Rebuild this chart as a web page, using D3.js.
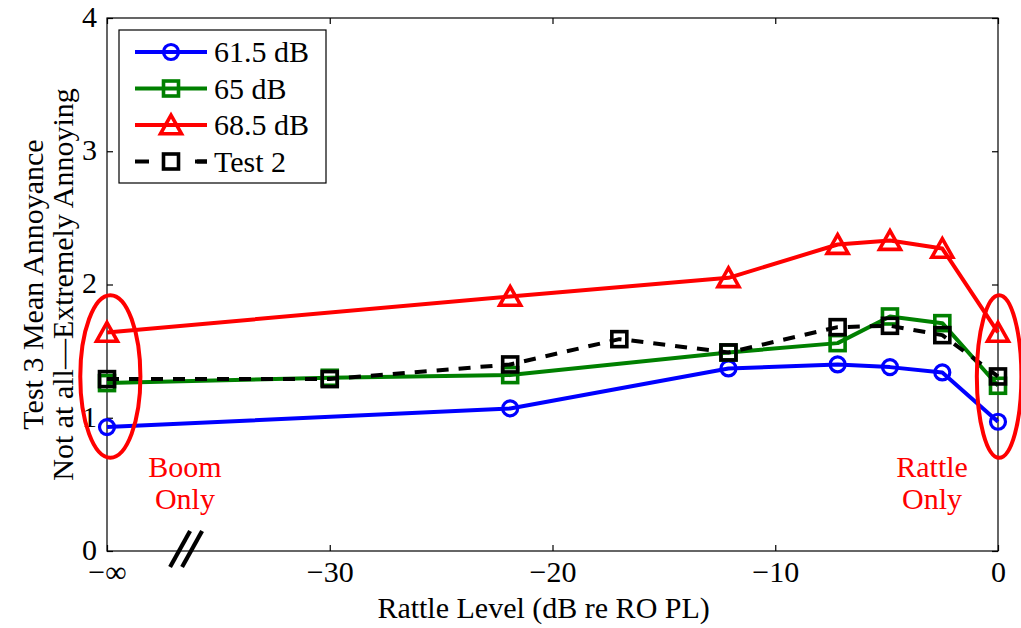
<!DOCTYPE html>
<html>
<head>
<meta charset="utf-8">
<script src="https://cdn.jsdelivr.net/npm/d3@7"></script>
<style>
  html, body { margin: 0; padding: 0; background: #fff; }
  svg { display: block; font-family: "Liberation Serif", "Times New Roman", serif; }
</style>
</head>
<body>
<svg id="chart" width="1021" height="628"></svg>
<script>
// Rattle level in dB re RO PL; -40 stands in for "-∞" (boom only)
const levels61 = [-40, -21.9, -12.1, -7.2, -4.85, -2.5, 0];
const annoy61  = [0.93, 1.07, 1.37, 1.40, 1.38, 1.34, 0.97];

const levels65 = [-40, -30, -21.9, -12.1, -7.2, -4.85, -2.5, 0];
const annoy65  = [1.26, 1.30, 1.32, 1.49, 1.56, 1.76, 1.71, 1.24];

const levels68 = [-40, -21.9, -12.1, -7.2, -4.85, -2.5, 0];
const annoy68  = [1.64, 1.91, 2.05, 2.30, 2.33, 2.27, 1.64];

const levelsT2 = [-40, -30, -21.9, -17, -12.1, -7.2, -4.85, -2.5, 0];
const annoyT2  = [1.29, 1.29, 1.40, 1.59, 1.49, 1.68, 1.69, 1.62, 1.31];

const seriesNames = ["61.5 dB", "65 dB", "68.5 dB", "Test 2"];
const xTickValues = [-40, -30, -20, -10, 0];
const xTickLabels = ["\u2212\u221E", "\u221230", "\u221220", "\u221210", "0"];
const yTickValues = [0, 1, 2, 3, 4];

// Highlight ellipses around the end conditions (data units)
const ellipseCx = [-39.85, 0.05];
const ellipseCy = [1.31, 1.31];
const ellipseRx = [1.35, 1.0];
const ellipseRy = [0.61, 0.61];
const noteLines = [["Boom", "Only"], ["Rattle", "Only"]];
const noteX = [-36.5, -2.96];
const noteY = [0.555, 0.555];

const svg = d3.select("#chart");
const M = { left: 107, right: 998, top: 18, bottom: 551 };

const x = d3.scaleLinear().domain([-40, 0]).range([M.left, M.right]);
const y = d3.scaleLinear().domain([0, 4]).range([M.bottom, M.top]);

const series = [
  { name: seriesNames[0], xs: levels61, ys: annoy61, color: "#0000ff", marker: "circle", dash: null },
  { name: seriesNames[1], xs: levels65, ys: annoy65, color: "#008000", marker: "square", dash: null },
  { name: seriesNames[2], xs: levels68, ys: annoy68, color: "#ff0000", marker: "triangle", dash: null },
  { name: seriesNames[3], xs: levelsT2, ys: annoyT2, color: "#000000", marker: "square", dash: "12,10" }
];

// Axes box
svg.append("rect")
  .attr("x", M.left).attr("y", M.top)
  .attr("width", M.right - M.left).attr("height", M.bottom - M.top)
  .attr("fill", "none").attr("stroke", "#000").attr("stroke-width", 1.2);

const tickLen = 6;
// Bottom axis with inward ticks
const xAxis = d3.axisBottom(x).tickValues(xTickValues)
  .tickSize(-tickLen).tickPadding(10)
  .tickFormat((d, i) => xTickLabels[i]);
const gx = svg.append("g").attr("transform", `translate(0,${M.bottom})`).call(xAxis);
// Top mirrored ticks
const gxt = svg.append("g").attr("transform", `translate(0,${M.top})`)
  .call(d3.axisTop(x).tickValues(xTickValues).tickSize(-tickLen).tickFormat(""));
// Left axis
const gy = svg.append("g").attr("transform", `translate(${M.left},0)`)
  .call(d3.axisLeft(y).tickValues(yTickValues).tickSize(-tickLen).tickPadding(10).tickFormat(d3.format("d")));
// Right mirrored ticks
const gyr = svg.append("g").attr("transform", `translate(${M.right},0)`)
  .call(d3.axisRight(y).tickValues(yTickValues).tickSize(-tickLen).tickFormat(""));

[gx, gxt, gy, gyr].forEach(g => {
  g.select(".domain").remove();
  g.selectAll(".tick line").attr("stroke", "#000").attr("stroke-width", 1.2);
  g.selectAll(".tick text").attr("fill", "#000")
    .style("font-family", "'Liberation Serif', 'Times New Roman', serif")
    .style("font-size", "30px");
});
gx.selectAll(".tick text").attr("dy", "0.71em");
gy.selectAll(".tick text").attr("dy", "0.28em");

// Axis break marks near -∞
const brk = svg.append("g").attr("stroke", "#000").attr("stroke-width", 4.2);
const bx = x(-36.45);
[-6, 6].forEach(off => {
  brk.append("line")
    .attr("x1", bx + off - 10).attr("y1", M.bottom + 16)
    .attr("x2", bx + off + 10).attr("y2", M.bottom - 20);
});

// Axis titles
svg.append("text")
  .attr("x", x(-20.4)).attr("y", 618)
  .attr("text-anchor", "middle")
  .style("font-size", "30px")
  .text("Rattle Level (dB re RO PL)");

const yTitle = svg.append("text")
  .attr("transform", `translate(0,${y(2)}) rotate(-90)`)
  .attr("text-anchor", "middle")
  .style("font-size", "30px");
yTitle.append("tspan").attr("x", 0).attr("y", 43).text("Test 3 Mean Annoyance");
yTitle.append("tspan").attr("x", 0).attr("y", 73).text("Not at all\u2014Extremely Annoying");

// Marker drawing
function drawMarker(g, type, cx, cy, color, fill) {
  if (type === "circle") {
    g.append("circle").attr("cx", cx).attr("cy", cy).attr("r", 7.5)
      .attr("fill", fill).attr("stroke", color).attr("stroke-width", 3.2);
  } else if (type === "square") {
    g.append("rect").attr("x", cx - 7.5).attr("y", cy - 7.5)
      .attr("width", 15).attr("height", 15)
      .attr("fill", fill).attr("stroke", color).attr("stroke-width", 3.6);
  } else if (type === "triangle") {
    const h = 16;
    g.append("path")
      .attr("d", `M${cx},${cy - h * 0.62}L${cx + 10.5},${cy + h * 0.55}L${cx - 10.5},${cy + h * 0.55}Z`)
      .attr("fill", fill).attr("stroke", color).attr("stroke-width", 3.6)
      .attr("stroke-linejoin", "miter");
  }
}

const line = d3.line().x(d => x(d[0])).y(d => y(d[1]));
const plot = svg.append("g");

series.forEach(s => {
  const pts = s.xs.map((v, i) => [v, s.ys[i]]);
  const g = plot.append("g");
  g.append("path")
    .attr("d", line(pts))
    .attr("fill", "none")
    .attr("stroke", s.color)
    .attr("stroke-width", 4)
    .attr("stroke-linejoin", "round")
    .attr("stroke-dasharray", s.dash);
  pts.forEach(p => drawMarker(g, s.marker, x(p[0]), y(p[1]), s.color, "none"));
});

// Highlight ellipses and notes
ellipseCx.forEach((cx, i) => {
  svg.append("ellipse")
    .attr("cx", x(cx)).attr("cy", y(ellipseCy[i]))
    .attr("rx", x(ellipseRx[i]) - x(0)).attr("ry", y(0) - y(ellipseRy[i]))
    .attr("fill", "none").attr("stroke", "#ff0000").attr("stroke-width", 4);
  const t = svg.append("text")
    .attr("text-anchor", "middle")
    .attr("fill", "#ff0000")
    .style("font-size", "30px");
  noteLines[i].forEach((ln, j) => {
    t.append("tspan").attr("x", x(noteX[i])).attr("y", y(noteY[i]) + j * 32).text(ln);
  });
});

// Legend
const lg = svg.append("g");
lg.append("rect").attr("x", 119).attr("y", 30).attr("width", 207).attr("height", 153)
  .attr("fill", "#fff").attr("stroke", "#000").attr("stroke-width", 1.2);
series.forEach((s, i) => {
  const ly = 52 + i * 36.5;
  lg.append("line").attr("x1", 135).attr("x2", 207).attr("y1", ly).attr("y2", ly)
    .attr("stroke", s.color).attr("stroke-width", 4)
    .attr("stroke-dasharray", s.dash ? "14,48" : null);
  if (s.dash) {
    lg.append("line").attr("x1", 195).attr("x2", 207).attr("y1", ly).attr("y2", ly)
      .attr("stroke", s.color).attr("stroke-width", 4);
  }
  drawMarker(lg, s.marker, 171, ly, s.color, "none");
  lg.append("text").attr("x", 214).attr("y", ly + 10)
    .style("font-size", "30px").attr("fill", "#000").text(s.name);
});
</script>
</body>
</html>
